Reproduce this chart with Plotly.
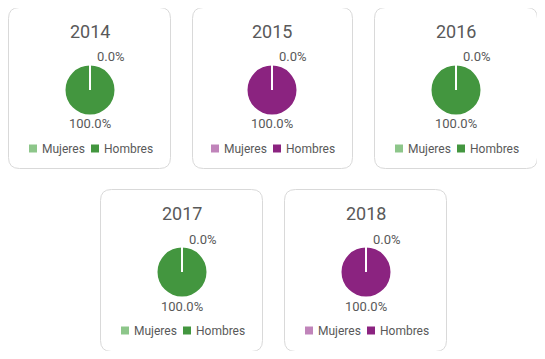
import plotly.graph_objects as go

W, H = 545, 359
OFF = 8                      # default page body margin
FW, FH = W - 2 * OFF, H - 2 * OFF

years = ["2014", "2015", "2016", "2017", "2018"]
labels = ["Mujeres", "Hombres"]
mujeres = [0, 0, 0, 0, 0]
hombres = [100, 100, 100, 100, 100]

green = ["#8DC68A", "#43963F"]
purple = ["#C084BA", "#8B2380"]
palettes = [green, purple, green, green, purple]

# panel boxes in page pixels (x0, y0, x1, y1)
boxes = [(8.5, 7.5, 170.5, 168.5), (192.5, 7.5, 352.5, 168.5), (374.5, 7.5, 537.5, 168.5),
         (100.5, 189.5, 262.5, 351.5), (284.5, 189.5, 446.5, 351.5)]


def px(x):
    return (x - OFF) / FW


def py(y):
    return 1 - (y - OFF) / FH


def rrect(x0, y0, x1, y1, r):
    p = f"M {px(x0 + r)} {py(y0)} L {px(x1 - r)} {py(y0)} Q {px(x1)} {py(y0)} {px(x1)} {py(y0 + r)} "
    p += f"L {px(x1)} {py(y1 - r)} Q {px(x1)} {py(y1)} {px(x1 - r)} {py(y1)} "
    p += f"L {px(x0 + r)} {py(y1)} Q {px(x0)} {py(y1)} {px(x0)} {py(y1 - r)} "
    p += f"L {px(x0)} {py(y0 + r)} Q {px(x0)} {py(y0)} {px(x0 + r)} {py(y0)} Z"
    return p


fig = go.Figure()
shapes = []
annotations = []
FONT = "Roboto, Arial, sans-serif"
TXT = "#595959"


def ann(x, y, text, size, xanchor="center"):
    annotations.append(dict(x=px(x), y=py(y), xref="paper", yref="paper",
                            xanchor=xanchor, yanchor="middle", text=text, showarrow=False,
                            font=dict(family=FONT, size=size, color=TXT)))


for yr, m, h, pal, b in zip(years, mujeres, hombres, palettes, boxes):
    x0, y0, x1, y1 = b
    cx = round((x0 + x1) / 2)
    cy = round(y0 + 82.5)
    R = 24.5
    shapes.append(dict(type="path", xref="paper", yref="paper", path=rrect(x0, y0, x1, y1, 11),
                       line=dict(color="#D9D9D9", width=1), fillcolor="white", layer="below"))
    total = m + h
    fig.add_trace(go.Pie(
        labels=labels, values=[m, h], sort=False, direction="clockwise", rotation=0,
        marker=dict(colors=pal, line=dict(color="white", width=0)),
        textinfo="none", hoverinfo="label+percent", showlegend=False,
        domain=dict(x=[px(cx - R), px(cx + R)], y=[py(cy + R), py(cy - R)]),
    ))
    # slice boundary at the start angle (top)
    shapes.append(dict(type="line", xref="paper", yref="paper",
                       x0=px(cx), x1=px(cx), y0=py(cy), y1=py(cy - R - 1),
                       line=dict(color="white", width=2)))
    # percentage labels
    ann(cx + 21, cy - 33, f"{m / total * 100:.1f}%", 13)
    ann(cx, cy + 34, f"{h / total * 100:.1f}%", 13)
    # title
    ann(cx, y0 + 24, yr, 18)
    # legend
    ly = y0 + 141
    for j, lab in enumerate(labels):
        sx = cx - 61 + 62 * j
        shapes.append(dict(type="rect", xref="paper", yref="paper",
                           x0=px(sx), x1=px(sx + 8), y0=py(ly + 4), y1=py(ly - 4),
                           fillcolor=pal[j], line=dict(width=0)))
        ann(sx + 11, ly, lab, 12, xanchor="left")

fig.update_layout(width=FW, height=FH, margin=dict(l=0, r=0, t=0, b=0),
                  paper_bgcolor="white", plot_bgcolor="white",
                  shapes=shapes, annotations=annotations)
fig.write_html("out.html")
